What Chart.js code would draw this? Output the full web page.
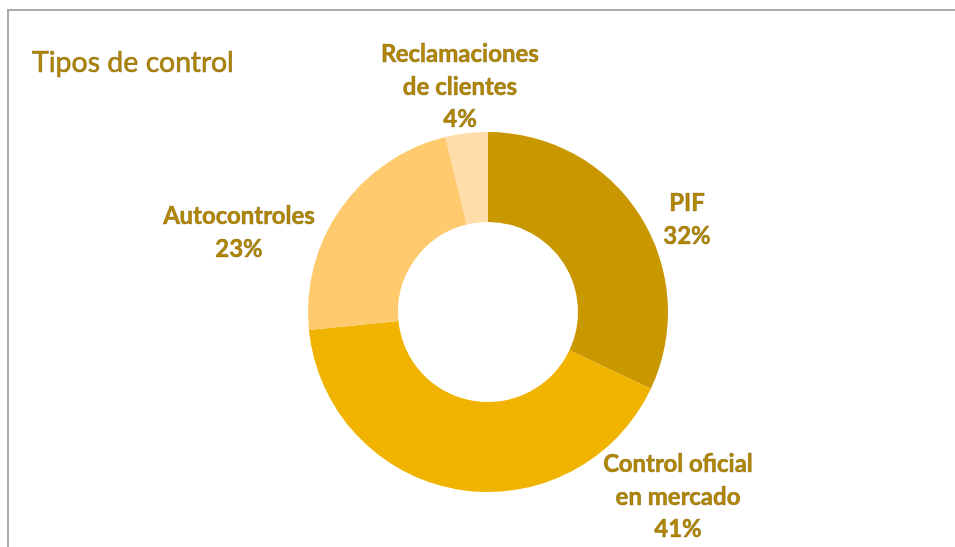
<!DOCTYPE html>
<html><head><meta charset="utf-8">
<script src="https://cdn.jsdelivr.net/npm/chart.js@4.4.0/dist/chart.umd.min.js"></script>
<style>html,body{margin:0;padding:0;background:#fff;}#wrap{width:955px;height:547px;position:relative;}</style>
</head><body><div id="wrap"><canvas id="c" width="955" height="547"></canvas></div>
<script>
const categories = [["PIF"], ["Control oficial", "en mercado"], ["Autocontroles"], ["Reclamaciones", "de clientes"]];
const values = [32, 41.4, 22.8, 3.8];
const percentLabels = ["32%", "41%", "23%", "4%"];
const colors = ["#C99700", "#F0B400", "#FFC96E", "#FFDCA8"];
const title = "Tipos de control";

// label block centers, offsets from doughnut center (style)
const labelOffsets = [[199, -92], [190, 185], [-249, -79], [-28, -225]];

const labelPlugin = {
  id: 'labels',
  beforeDraw(chart) {
    const ctx = chart.ctx;
    ctx.save();
    ctx.fillStyle = '#fff';
    ctx.fillRect(0, 0, chart.width, chart.height);
    ctx.strokeStyle = '#ABABAB';
    ctx.lineWidth = 2;
    ctx.beginPath();
    ctx.moveTo(8, chart.height);
    ctx.lineTo(8, 10);
    ctx.lineTo(chart.width, 10);
    ctx.stroke();
    ctx.fillStyle = '#B38800';
    ctx.strokeStyle = 'rgba(110,80,0,0.6)';
    ctx.lineWidth = 0.7;
    ctx.font = '28.5px Lato, "Open Sans", sans-serif';
    ctx.textBaseline = 'alphabetic';
    ctx.textAlign = 'left';
    ctx.fillText(title, 32, 72);
    ctx.strokeText(title, 32, 72);
    ctx.restore();
  },
  afterDatasetsDraw(chart) {
    const ctx = chart.ctx;
    const meta = chart.getDatasetMeta(0);
    const arc0 = meta.data[0];
    const cx = arc0.x, cy = arc0.y;
    ctx.save();
    ctx.fillStyle = '#B38800';
    ctx.strokeStyle = 'rgba(110,80,0,0.5)';
    ctx.lineWidth = 0.7;
    ctx.font = 'bold 24px Lato, "Open Sans", sans-serif';
    ctx.textAlign = 'center';
    ctx.textBaseline = 'middle';
    const lh = 32.5;
    meta.data.forEach((arc, i) => {
      const lines = categories[i].concat([percentLabels[i]]);
      const bx = cx + labelOffsets[i][0];
      const by = cy + labelOffsets[i][1];
      const top = by - (lines.length - 1) * lh / 2;
      lines.forEach((t, j) => {
        ctx.fillText(t, bx, top + j * lh);
        ctx.strokeText(t, bx, top + j * lh);
      });
    });
    ctx.restore();
  }
};

new Chart(document.getElementById('c'), {
  type: 'doughnut',
  data: {
    labels: categories.map(c => c.join(' ')),
    datasets: [{ data: values, backgroundColor: colors, borderWidth: 0 }]
  },
  options: {
    responsive: false,
    animation: false,
    cutout: '50%',
    layout: { padding: { top: 132, bottom: 55, left: 308, right: 287 } },
    plugins: { legend: { display: false }, tooltip: { enabled: false } }
  },
  plugins: [labelPlugin]
});
</script></body></html>
